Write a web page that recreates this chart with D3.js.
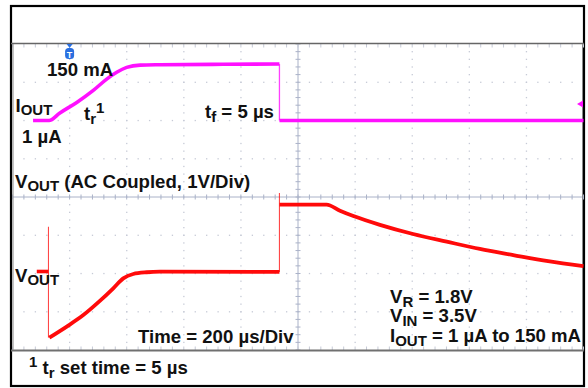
<!DOCTYPE html>
<html>
<head>
<meta charset="utf-8">
<script src="https://cdn.jsdelivr.net/npm/d3@7"></script>
<style>
  html, body { margin: 0; padding: 0; background: #fff; }
  svg { display: block; }
  text { font-family: "Liberation Sans", Arial, sans-serif; font-weight: bold; fill: #111; }
</style>
</head>
<body>
<div id="chart"></div>
<script>
// Load-transient scope capture: IOUT step 1 µA -> 150 mA -> 1 µA, VOUT AC coupled.

// Time axis: 10 divisions of 200 µs
const timeDomain = [0, 2000];
const divisionsX = 10;
const divisionsY = 8;

// IOUT (mA) – rising edge and plateau, then the falling step back to 1 µA
const iRiseTime = [72, 128, 166, 225, 283, 330, 365, 400, 447, 517, 700, 935];
const iRiseMA   = [0, 0, 20, 48, 80, 110, 128, 141, 147, 148, 149, 150];
const iFallTime = [935, 2000];
const iFallMA   = [0, 0];

// VOUT (V, AC coupled) – before load step, spike, recovery, unload overshoot and decay
const vPreTime   = [85, 126];
const vPreV      = [0, 0];
const vSpikeTime = [126, 126];
const vSpikeV    = [1.17, -1.73];
const vRecTime   = [129, 190, 248, 306, 353, 388, 423, 470, 517, 935];
const vRecV      = [-1.73, -1.44, -1.14, -0.77, -0.44, -0.18, -0.065, -0.02, -0.005, -0.01];
const vStepTime  = [935, 935];
const vStepV     = [-0.01, 2.05];
const vDecayTime = [935, 1100, 1147, 1194, 1287, 1403, 1521, 1637, 1754, 1876, 2000];
const vDecayV    = [1.75, 1.75, 1.59, 1.45, 1.22, 0.98, 0.78, 0.59, 0.43, 0.27, 0.14];

const triggerTime = 200;

const W = 588, H = 388;
const svg = d3.select("#chart").append("svg").attr("width", W).attr("height", H);

// screen area of the graticule
const gx0 = 12.5, gx1 = 583.5, gy0 = 44, gy1 = 350;

const x = d3.scaleLinear().domain(timeDomain).range([gx0, gx1]);
const div = d3.scaleLinear().domain([0, divisionsY]).range([gy1, gy0]);
const divX = d3.scaleLinear().domain([0, divisionsX]).range([gx0, gx1]);
// channel scales: IOUT ground at 6 div; VOUT reference at ~2.07 div, 1 V/div
const yI = d3.scaleLinear().domain([0, 150]).range([div(6), 64]);
const yV = d3.scaleLinear().domain([0, 1]).range([271.5, 271.5 - (gy1 - gy0) / divisionsY]);

// outer frame
svg.append("rect").attr("x", 11).attr("y", 6).attr("width", 573).attr("height", 380)
  .attr("fill", "#fff").attr("stroke", "#000").attr("stroke-width", 2.2);

// graticule
const g = svg.append("g");
const dotColor = "#c6cad6";
const minorX = d3.range(0, divisionsX * 5 + 1).map(i => i / 5);
const minorY = d3.range(0, divisionsY * 5 + 1).map(i => i / 5);

// dotted division lines
for (let i = 1; i < divisionsX; i++) {
  if (i === divisionsX / 2) continue;
  g.selectAll(null).data(minorY.slice(1, -1)).enter().append("rect")
    .attr("x", divX(i) - 0.6).attr("y", d => div(d) - 0.6)
    .attr("width", 1.3).attr("height", 1.3).attr("fill", dotColor);
}
for (let j = 1; j < divisionsY; j++) {
  if (j === divisionsY / 2) continue;
  g.selectAll(null).data(minorX.slice(1, -1)).enter().append("rect")
    .attr("x", d => divX(d) - 0.6).attr("y", div(j) - 0.6)
    .attr("width", 1.3).attr("height", 1.3).attr("fill", dotColor);
}

// centre axes with minor ticks
const axisColor = "#aab2c8";
g.append("line").attr("x1", gx0).attr("x2", gx1).attr("y1", div(4)).attr("y2", div(4))
  .attr("stroke", axisColor).attr("stroke-width", 1);
g.append("line").attr("x1", divX(5)).attr("x2", divX(5)).attr("y1", gy0).attr("y2", gy1)
  .attr("stroke", axisColor).attr("stroke-width", 1);
g.selectAll(null).data(minorX).enter().append("line")
  .attr("x1", d => divX(d)).attr("x2", d => divX(d))
  .attr("y1", div(4) - 2.5).attr("y2", div(4) + 2.5)
  .attr("stroke", axisColor).attr("stroke-width", 1);
g.selectAll(null).data(minorY).enter().append("line")
  .attr("x1", divX(5) - 2.5).attr("x2", divX(5) + 2.5)
  .attr("y1", d => div(d)).attr("y2", d => div(d))
  .attr("stroke", axisColor).attr("stroke-width", 1);
// border ticks
g.selectAll(null).data(minorX).enter().append("line")
  .attr("x1", d => divX(d)).attr("x2", d => divX(d))
  .attr("y1", gy0).attr("y2", gy0 + 3.5).attr("stroke", dotColor).attr("stroke-width", 1);
g.selectAll(null).data(minorX).enter().append("line")
  .attr("x1", d => divX(d)).attr("x2", d => divX(d))
  .attr("y1", gy1 - 3.5).attr("y2", gy1).attr("stroke", dotColor).attr("stroke-width", 1);

// graticule border lines
svg.append("line").attr("x1", 11).attr("x2", 584).attr("y1", 43.5).attr("y2", 43.5)
  .attr("stroke", "#666", ).attr("stroke-width", 1.6);
svg.append("line").attr("x1", 11).attr("x2", 584).attr("y1", 350.5).attr("y2", 350.5)
  .attr("stroke", "#707070").attr("stroke-width", 2);
svg.append("line").attr("x1", 13).attr("x2", 13).attr("y1", 44).attr("y2", 350)
  .attr("stroke", "#888").attr("stroke-width", 1);
svg.append("line").attr("x1", 582.5).attr("x2", 582.5).attr("y1", 44).attr("y2", 350)
  .attr("stroke", "#888").attr("stroke-width", 1);

// traces
const line = (xs, ys, yScale) => d3.line()
  .x(i => x(xs[i])).y(i => yScale(ys[i]))
  .curve(d3.curveMonotoneX)(d3.range(xs.length));

const magenta = "#ff10ff", red = "#ff0a0a";
const traces = svg.append("g").attr("fill", "none").attr("stroke-linejoin", "round");

// IOUT
traces.append("path").attr("d", line(iRiseTime, iRiseMA, yI))
  .attr("stroke", magenta).attr("stroke-width", 3.6);
traces.append("path")
  .attr("d", line([iRiseTime[iRiseTime.length - 1], iFallTime[0]],
                  [iRiseMA[iRiseMA.length - 1], iFallMA[0]], yI))
  .attr("stroke", magenta).attr("stroke-width", 1.3).attr("opacity", 0.8);
traces.append("path").attr("d", line(iFallTime, iFallMA, yI))
  .attr("stroke", magenta).attr("stroke-width", 3.6);

// VOUT
traces.append("path").attr("d", line(vSpikeTime, vSpikeV, yV))
  .attr("stroke", red).attr("stroke-width", 1.1).attr("opacity", 0.75);
traces.append("path").attr("d", line(vStepTime, vStepV, yV))
  .attr("stroke", red).attr("stroke-width", 1.1).attr("opacity", 0.75);
traces.append("path").attr("d", line(vPreTime, vPreV, yV))
  .attr("stroke", red).attr("stroke-width", 3.6);
traces.append("path").attr("d", line(vRecTime, vRecV, yV))
  .attr("stroke", red).attr("stroke-width", 3.8);
traces.append("path").attr("d", line(vDecayTime, vDecayV, yV))
  .attr("stroke", red).attr("stroke-width", 3.8);

// channel reference marker (right edge)
svg.append("path").attr("d", "M577,104 L583,100.5 L583,107.5 Z").attr("fill", magenta);

// trigger marker
const tx = x(triggerTime);
svg.append("path").attr("d", `M${tx - 3},44 L${tx + 3},44 L${tx},48 Z`).attr("fill", "#2a6fe0");
svg.append("rect").attr("x", tx - 4.5).attr("y", 48).attr("width", 9).attr("height", 11)
  .attr("rx", 3.5).attr("fill", "#2a6fe0");
svg.append("text").attr("x", tx).attr("y", 57.5).attr("text-anchor", "middle")
  .style("font-size", "9px").style("fill", "#fff").text("T");

// labels
const fs = 18.6, sub = 15;
function label(xp, yp, parts) {
  const t = svg.append("text").attr("x", xp).attr("y", yp).style("font-size", fs + "px");
  parts.forEach(p => {
    const s = t.append("tspan").text(p.t);
    if (p.size) s.style("font-size", p.size + "px");
    if (p.dy) s.attr("dy", p.dy);
  });
  return t;
}

label(47, 76, [{ t: "150 mA" }]);
label(15.5, 112, [{ t: "I" }, { t: "OUT", size: sub, dy: 3 }]);
label(22, 143, [{ t: "1 µA" }]);
label(84, 120, [{ t: "t" }, { t: "r", size: sub, dy: 4 }, { t: "1", size: sub, dy: -11 }]);
label(205, 118, [{ t: "t" }, { t: "f", size: sub, dy: 4 }, { t: " = 5 µs", dy: -4 }]);
label(15, 188, [{ t: "V" }, { t: "OUT", size: sub, dy: 3 }, { t: " (AC Coupled, 1V/Div)", dy: -3 }]);
label(15, 282, [{ t: "V" }, { t: "OUT", size: sub, dy: 3 }]);
label(138, 342.5, [{ t: "Time = 200 µs/Div" }]);
label(390, 302.5, [{ t: "V" }, { t: "R", size: sub, dy: 4 }, { t: " = 1.8V", dy: -4 }]);
label(390, 322, [{ t: "V" }, { t: "IN", size: sub, dy: 4 }, { t: " = 3.5V", dy: -4 }]);
label(390, 341.5, [{ t: "I" }, { t: "OUT", size: sub, dy: 4 }, { t: " = 1 µA to 150 mA", dy: -4 }]);
label(29, 374, [{ t: "1", size: sub, dy: -7 }, { t: " t", dy: 7 }, { t: "r", size: sub, dy: 4 }, { t: " set time = 5 µs", dy: -4 }]);
</script>
</body>
</html>
